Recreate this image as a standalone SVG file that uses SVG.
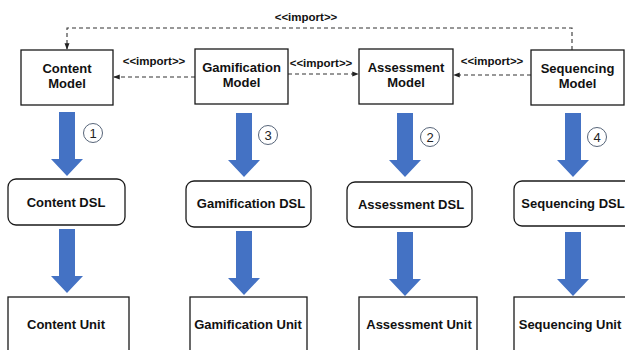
<svg xmlns="http://www.w3.org/2000/svg" width="625" height="350" viewBox="0 0 625 350">
<defs>
<style>
.box{fill:#fff;stroke:#1a1a1a;stroke-width:1.3}
.t{font-family:"Liberation Sans",Arial,sans-serif;font-weight:bold;font-size:13px;fill:#111;text-anchor:middle}
.lbl{font-family:"Liberation Sans",Arial,sans-serif;font-weight:bold;font-size:11.5px;fill:#111;text-anchor:middle}
.dash{fill:none;stroke:#333;stroke-width:1.1;stroke-dasharray:4 3}
.big{fill:#4472C4}
.num{fill:#fff;stroke:#44546a;stroke-width:0.9}
.nt{font-family:"Liberation Sans",Arial,sans-serif;font-size:13px;fill:#222;text-anchor:middle}
</style>
<marker id="ah" viewBox="0 0 8 8" refX="7" refY="4" markerWidth="6" markerHeight="6" orient="auto">
<path d="M0,1 L8,4 L0,7 z" fill="#222"/>
</marker>
<path id="bigarrow" d="M-8,0 H8 V47 H16 L0,64 L-16,47 H-8 z"/>
</defs>

<g id="connectors">
<polyline class="dash" points="572,50 572,28 67,28 67,49" marker-end="url(#ah)"/>
<text class="lbl" x="306" y="21">&lt;&lt;import&gt;&gt;</text>
<line class="dash" x1="195" y1="77" x2="114" y2="77" marker-end="url(#ah)"/>
<text class="lbl" x="154" y="65">&lt;&lt;import&gt;&gt;</text>
<line class="dash" x1="288" y1="74" x2="358" y2="74" marker-end="url(#ah)"/>
<text class="lbl" x="321" y="67">&lt;&lt;import&gt;&gt;</text>
<line class="dash" x1="531" y1="75" x2="454" y2="75" marker-end="url(#ah)"/>
<text class="lbl" x="492" y="65">&lt;&lt;import&gt;&gt;</text>

<use href="#bigarrow" class="big" x="67" y="112"/>
<use href="#bigarrow" class="big" x="67" y="229"/>
<use href="#bigarrow" class="big" x="244" y="113"/>
<use href="#bigarrow" class="big" x="244" y="231"/>
<use href="#bigarrow" class="big" x="405" y="113"/>
<use href="#bigarrow" class="big" x="405" y="232"/>
<use href="#bigarrow" class="big" x="573" y="113"/>
<use href="#bigarrow" class="big" x="573" y="232"/>

<circle class="num" cx="93" cy="133" r="9.5"/><text class="nt" x="93" y="137.5">1</text>
<circle class="num" cx="268" cy="135" r="9.5"/><text class="nt" x="268" y="139.5">3</text>
<circle class="num" cx="430" cy="137" r="9.5"/><text class="nt" x="430" y="141.5">2</text>
<circle class="num" cx="597" cy="137" r="9.5"/><text class="nt" x="597" y="141.5">4</text>
</g>

<g id="content-model"><rect class="box" x="21" y="50" width="92" height="55"/><text class="t" x="67" y="73">Content</text><text class="t" x="67" y="88">Model</text></g>
<g id="gamification-model"><rect class="box" x="195" y="49" width="93" height="55"/><text class="t" x="241.5" y="72">Gamification</text><text class="t" x="241.5" y="87">Model</text></g>
<g id="assessment-model"><rect class="box" x="359" y="49" width="94" height="55"/><text class="t" x="406" y="72">Assessment</text><text class="t" x="406" y="87">Model</text></g>
<g id="sequencing-model"><rect class="box" x="531" y="50" width="93" height="55"/><text class="t" x="577.5" y="73">Sequencing</text><text class="t" x="577.5" y="88">Model</text></g>

<g id="content-dsl"><rect class="box" x="8" y="179" width="117" height="46" rx="8"/><text class="t" x="66" y="207">Content DSL</text></g>
<g id="gamification-dsl"><rect class="box" x="186" y="181" width="125" height="46" rx="8"/><text class="t" x="251" y="208">Gamification DSL</text></g>
<g id="assessment-dsl"><rect class="box" x="347" y="182" width="125" height="45" rx="8"/><text class="t" x="411" y="209">Assessment DSL</text></g>
<g id="sequencing-dsl"><rect class="box" x="514" y="181" width="125" height="45" rx="8"/><text class="t" x="573" y="208">Sequencing DSL</text></g>

<g id="content-unit"><rect class="box" x="8" y="297" width="121" height="70"/><text class="t" x="66" y="329">Content Unit</text></g>
<g id="gamification-unit"><rect class="box" x="190" y="297" width="117" height="70"/><text class="t" x="248" y="329">Gamification Unit</text></g>
<g id="assessment-unit"><rect class="box" x="359" y="297" width="118" height="70"/><text class="t" x="419" y="329">Assessment Unit</text></g>
<g id="sequencing-unit"><rect class="box" x="514" y="297" width="125" height="70"/><text class="t" x="570" y="329">Sequencing Unit</text></g>
</svg>
